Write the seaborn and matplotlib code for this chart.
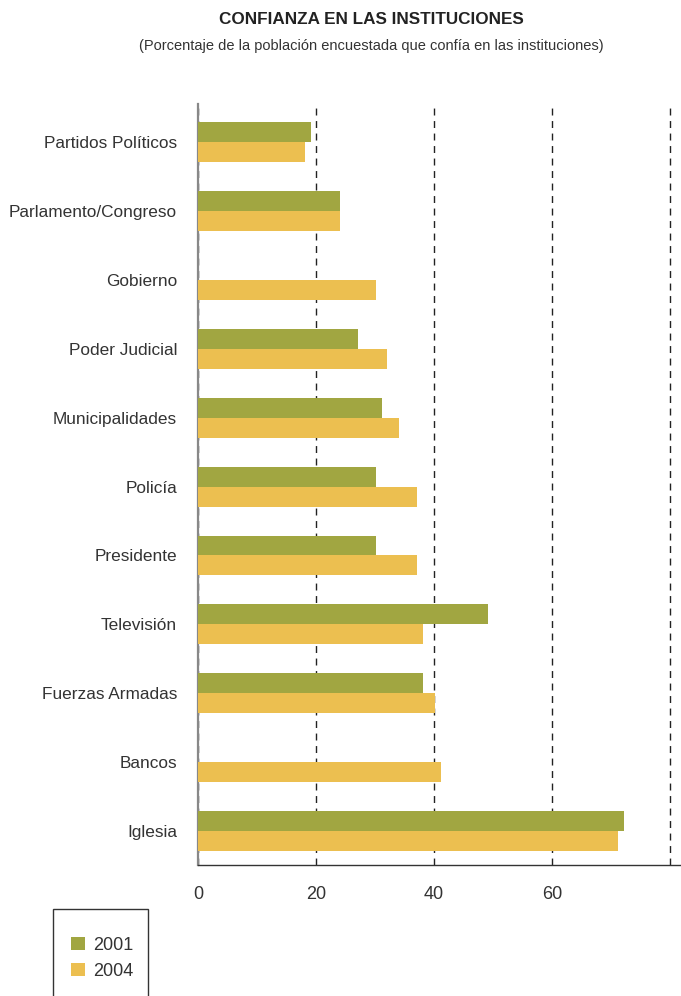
import numpy as np
import pandas as pd
import seaborn as sns
import matplotlib.pyplot as plt
from matplotlib.patches import Rectangle, Patch

instituciones = ["Partidos Políticos", "Parlamento/Congreso", "Gobierno", "Poder Judicial",
                 "Municipalidades", "Policía", "Presidente", "Televisión",
                 "Fuerzas Armadas", "Bancos", "Iglesia"]
v2001 = [19.2, 24.1, np.nan, 27.1, 31.2, 30.2, 30.2, 49.2, 38.1, np.nan, 72.2]
v2004 = [18.1, 24.1, 30.2, 32.0, 34.1, 37.1, 37.1, 38.1, 40.2, 41.2, 71.2]
anios = ["2001", "2004"]
colores = ["#A1A641", "#ECBF50"]

df = pd.DataFrame({
    "institucion": instituciones * 2,
    "anio": ["2001"] * len(instituciones) + ["2004"] * len(instituciones),
    "valor": v2001 + v2004,
})

sns.set_style("white")
plt.rcParams['font.family'] = ['Liberation Sans', 'DejaVu Sans']

fig = plt.figure(figsize=(6.81, 9.96), dpi=100)
ax = fig.add_axes([198/681, 1-865/996, 1-198/681, (865-104)/996])

sns.barplot(data=df, y="institucion", x="valor", hue="anio", hue_order=anios,
            palette=colores, order=instituciones, orient="h", width=0.58,
            saturation=1, errorbar=None, legend=False, ax=ax, zorder=3,
            linewidth=0)

ax.set_xlim(0, (681-198)/5.9)
ax.set_ylim(10.49, -0.55)
ax.set_xticks([0, 20, 40, 60, 80])
ax.set_xticklabels(["0", "20", "40", "60", ""])
ax.set_xlabel("")
ax.set_ylabel("")
ax.grid(axis="x", color="#222222", linestyle=(0, (5, 4)), linewidth=1, zorder=0)
ax.grid(axis="y", visible=False)
for s in ["top", "right"]:
    ax.spines[s].set_visible(False)
ax.spines["left"].set_color("#888888")
ax.spines["left"].set_linewidth(1.6)
ax.spines["bottom"].set_color("#333333")
ax.spines["bottom"].set_linewidth(1)
ax.tick_params(axis="x", length=9, width=1, color="#444444", pad=6,
               labelsize=13, labelcolor="#333333")
ax.tick_params(axis="y", length=0, pad=15, labelsize=12.4, labelcolor="#333333")

fig.text(371/681, 1-20/996, "CONFIANZA EN LAS INSTITUCIONES", ha="center", va="center",
         fontsize=12.3, fontweight="bold", color="#222222")
fig.text(371/681, 1-46/996, "(Porcentaje de la población encuestada que confía en las instituciones)",
         ha="center", va="center", fontsize=10.5, color="#333333")

fig.patches.append(Rectangle((53/681, -0.01), (148-53)/681, (1-909/996)+0.01,
                             transform=fig.transFigure, fill=False,
                             edgecolor="#333333", linewidth=1))
handles = [Patch(facecolor=c, edgecolor="none") for c in colores]
fig.legend(handles, anios, loc="upper left", bbox_to_anchor=(62/681, 1-928/996),
           frameon=False, handlelength=0.75, handleheight=0.75, handletextpad=0.45,
           labelspacing=0.5, fontsize=13, labelcolor="#333333", borderpad=0)

fig.savefig("out.png", dpi=100)
